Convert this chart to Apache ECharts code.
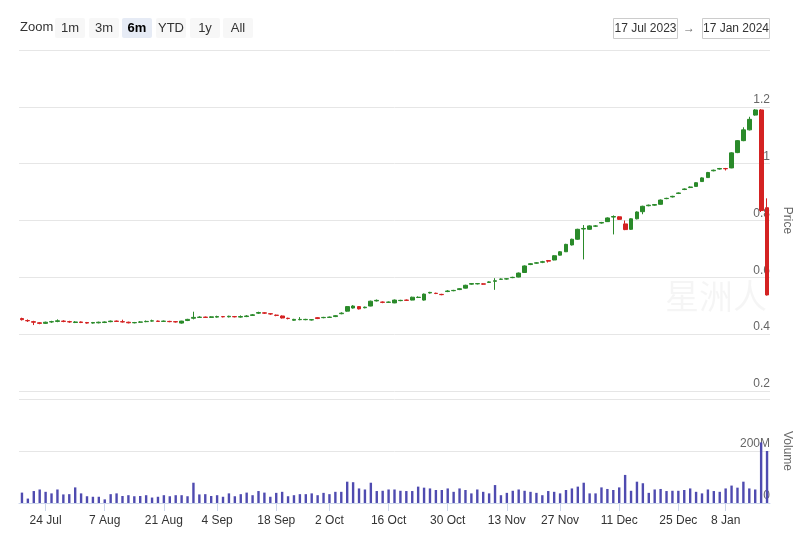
<!DOCTYPE html>
<html><head><meta charset="utf-8">
<script src="https://cdn.jsdelivr.net/npm/echarts@6/dist/echarts.min.js"></script>
<style>html,body{margin:0;padding:0;background:#fff}#c{width:800px;height:538px}</style>
</head><body><div id="c"></div>
<script>
// ---- data ----
const startDate = '2023-07-17';
const endDate = '2024-01-17';
const holidays = ['2023-07-19','2023-08-31','2023-09-28','2023-11-13','2023-12-25','2024-01-01'];
const tickDates = ['2023-07-24','2023-08-07','2023-08-21','2023-09-04','2023-09-18','2023-10-02','2023-10-16','2023-10-30','2023-11-13','2023-11-27','2023-12-11','2023-12-25','2024-01-08'];
const rangeButtons = ['1m','3m','6m','YTD','1y','All'];
const selectedButton = '6m';
const rangeFrom = '17 Jul 2023';
const rangeTo = '17 Jan 2024';

const opens = [.455,.448,.444,.440,.438,.443,.445,.446,.444,.441,.443,.441,.439,.440,.441,.444,.446,.444,.442,.440,.442,.444,.446,.446,.445,.445,.444,.439,.448,.456,
.459,.460,.459,.460,.462,.461,.462,.460,.462,.466,.474,.475,.472,.467,.464,.456,.449,.451,.451,.450,.458,.458,.459,.462,.472,.481,.492,.497,.493,.499,
.517,.513,.512,.510,.518,.520,.520,.529,.520,.545,.544,.540,.550,.553,.557,.562,.576,.577,.577,.582,.586,.593,.594,.599,.601,.617,.645,.650,.653,.659,
.661,.678,.690,.714,.734,.770,.769,.780,.791,.796,.812,.813,.788,.769,.806,.831,.852,.854,.857,.877,.883,.895,.909,.916,.920,.937,.951,.975,.981,.983,
.985,1.039,1.081,1.119,1.171,1.189,.845];
const closes = [.451,.447,.442,.438,.442,.444,.447,.445,.443,.443,.441,.439,.441,.442,.443,.446,.445,.443,.440,.441,.443,.445,.447,.445,.446,.444,.443,.446,.452,.459,
.460,.459,.461,.462,.461,.463,.461,.462,.464,.468,.476,.474,.471,.466,.457,.455,.452,.452,.452,.451,.455,.459,.460,.465,.474,.497,.499,.489,.495,.516,
.519,.512,.513,.520,.519,.519,.530,.530,.541,.547,.543,.539,.552,.554,.560,.572,.578,.578,.576,.584,.588,.594,.595,.600,.615,.640,.648,.651,.655,.657,
.676,.690,.716,.734,.769,.772,.781,.781,.793,.809,.814,.804,.768,.806,.830,.850,.854,.856,.872,.878,.885,.897,.911,.918,.933,.950,.969,.977,.983,.982,
1.038,1.081,1.119,1.156,1.189,.835,.538];
const lows = [.448,.443,.432,.435,.436,.440,.442,.442,.440,.439,.439,.437,.437,.438,.439,.442,.443,.441,.438,.438,.440,.442,.444,.443,.443,.442,.441,.437,.446,.452,
.457,.457,.457,.458,.459,.459,.459,.458,.460,.464,.471,.471,.468,.463,.455,.452,.447,.449,.449,.448,.453,.456,.457,.460,.470,.479,.490,.487,.491,.498,
.515,.509,.510,.509,.516,.517,.519,.527,.518,.543,.541,.537,.548,.551,.555,.561,.574,.575,.574,.580,.556,.591,.592,.597,.600,.616,.643,.648,.650,.652,
.660,.677,.689,.712,.732,.663,.767,.777,.789,.795,.751,.802,.766,.767,.804,.822,.850,.852,.856,.875,.881,.893,.907,.914,.919,.936,.950,.973,.979,.976,
.984,1.037,1.079,1.117,1.169,.830,.536];
const highs = [.458,.452,.447,.442,.444,.447,.452,.449,.447,.446,.445,.443,.443,.444,.445,.448,.448,.451,.444,.443,.446,.448,.451,.448,.448,.447,.446,.447,.454,.479,
.463,.462,.463,.465,.464,.465,.464,.466,.467,.471,.479,.477,.474,.469,.466,.458,.454,.460,.454,.453,.460,.461,.462,.467,.477,.499,.502,.499,.497,.518,
.522,.515,.515,.522,.521,.522,.532,.533,.543,.549,.546,.542,.555,.556,.562,.574,.580,.580,.579,.586,.597,.596,.597,.602,.617,.642,.650,.653,.658,.661,
.678,.692,.718,.736,.771,.784,.783,.784,.795,.811,.818,.815,.800,.808,.832,.852,.856,.858,.874,.880,.887,.899,.913,.920,.935,.952,.971,.979,.985,.985,
1.040,1.083,1.128,1.165,1.192,1.192,.878];
// volume in millions
const volumes = [40,17,46,52,43,37,52,33,34,60,37,26,24,24,14,34,37,27,30,26,27,30,21,24,30,26,30,30,26,78,
33,34,27,30,24,37,26,34,40,30,46,40,24,39,43,26,30,34,34,37,30,39,34,43,43,82,80,56,52,78,46,47,52,52,
47,46,46,63,59,56,50,50,56,43,56,50,37,52,43,37,69,30,39,47,52,47,43,39,30,46,43,37,50,56,
63,78,37,37,60,54,50,60,108,47,82,76,39,52,54,46,47,47,50,56,43,37,52,46,43,56,67,59,82,56,52,233,200];

// ---- derived ----
const MONTHS = ['Jan','Feb','Mar','Apr','May','Jun','Jul','Aug','Sep','Oct','Nov','Dec'];
function buildDates(){
  const out = [];
  let d = new Date(startDate + 'T00:00:00Z');
  const e = new Date(endDate + 'T00:00:00Z');
  while (d <= e) {
    const w = d.getUTCDay();
    const s = d.toISOString().slice(0,10);
    if (w !== 0 && w !== 6 && holidays.indexOf(s) < 0) out.push(s);
    d = new Date(d.getTime() + 86400000);
  }
  return out;
}
const dates = buildDates();
function fmt(s){ const p = s.split('-'); return (+p[2]) + ' ' + MONTHS[+p[1]-1]; }
const tickLabelAt = {};
tickDates.forEach(t => {
  const i = dates.findIndex(d => d >= t);
  if (i >= 0) tickLabelAt[i] = fmt(t);
});
const candleData = dates.map((d,i) => [opens[i], closes[i], lows[i], highs[i]]);

const FONT = '"Liberation Sans", Arial, Helvetica, sans-serif';
const UP = '#2a8a2a', DOWN = '#d42222';

// range selector graphics
const graphics = [];
graphics.push({type:'text', left:20, top:21, style:{text:'Zoom', font:'13px ' + FONT, fill:'#333'}});
const btnX = [55, 89, 122, 156, 190, 223];
rangeButtons.forEach((b, k) => {
  const sel = b === selectedButton;
  graphics.push({type:'rect', shape:{x:btnX[k], y:18, width:30, height:20, r:2}, style:{fill: sel ? '#e6ebf5' : '#f7f7f7'}});
  graphics.push({type:'text', x:btnX[k] + 15, y:28, style:{text:b, font:(sel ? 'bold ' : '') + '13px ' + FONT, fill: sel ? '#000' : '#333', align:'center', verticalAlign:'middle'}});
});
graphics.push({type:'rect', shape:{x:613.5, y:18.5, width:64, height:20}, style:{fill:'#fff', stroke:'#cccccc', lineWidth:1}});
graphics.push({type:'text', x:645.5, y:29, style:{text:rangeFrom, font:'12px ' + FONT, fill:'#333', align:'center', verticalAlign:'middle'}});
graphics.push({type:'text', x:689, y:29, style:{text:'→', font:'12px ' + FONT, fill:'#666', align:'center', verticalAlign:'middle'}});
graphics.push({type:'rect', shape:{x:702.5, y:18.5, width:67, height:20}, style:{fill:'#fff', stroke:'#cccccc', lineWidth:1}});
graphics.push({type:'text', x:736, y:29, style:{text:rangeTo, font:'12px ' + FONT, fill:'#333', align:'center', verticalAlign:'middle'}});
// watermark
graphics.push({type:'text', x:716, y:296, z:-1, style:{text:'星洲人', font:'34px "Noto Sans CJK SC", sans-serif', fill:'rgba(0,0,0,0.04)', align:'center', verticalAlign:'middle'}});

const chart = echarts.init(document.getElementById('c'), null, {renderer:'canvas'});
chart.setOption({
  animation: false,
  backgroundColor: '#fff',
  textStyle: {fontFamily: FONT},
  graphic: graphics,
  grid: [
    {left:19, right:30, top:50, height:341, outerBoundsMode:'none'},
    {left:19, right:30, top:399, height:104, outerBoundsMode:'none'}
  ],
  xAxis: [
    {type:'category', gridIndex:0, data:dates, boundaryGap:true,
      axisLine:{show:false}, axisTick:{show:false}, axisLabel:{show:false}, splitLine:{show:false}},
    {type:'category', gridIndex:1, data:dates, boundaryGap:true,
      axisLine:{show:true, lineStyle:{color:'#ccd6eb', width:1}},
      axisTick:{show:true, alignWithLabel:true, length:8, lineStyle:{color:'#ccd6eb'}, interval:(i) => tickLabelAt[i] !== undefined},
      axisLabel:{show:true, interval:(i) => tickLabelAt[i] !== undefined, formatter:(v, i) => tickLabelAt[i] || '', color:'#333', fontSize:12, margin:12, fontFamily:FONT},
      splitLine:{show:false}}
  ],
  yAxis: [
    {type:'value', gridIndex:0, position:'right', min:0.2, max:1.4, interval:0.2,
      axisLine:{show:false}, axisTick:{show:false},
      splitLine:{show:true, lineStyle:{color:'#e6e6e6', width:1}},
      axisLabel:{inside:true, margin:0, color:'#666', fontSize:12, fontFamily:FONT, verticalAlign:'bottom', padding:[0,0,1,0],
        formatter:(v) => (Math.abs(v - 1.4) < 1e-6) ? '' : String(+v.toFixed(1))},
      name:'Price', nameLocation:'middle', nameRotate:-90, nameGap:0,
      nameTextStyle:{color:'#666', fontSize:12, fontFamily:FONT, verticalAlign:'middle'}},
    {type:'value', gridIndex:1, position:'right', min:0, max:400, interval:200,
      axisLine:{show:false}, axisTick:{show:false},
      splitLine:{show:true, lineStyle:{color:'#e6e6e6', width:1}},
      axisLabel:{inside:true, margin:0, color:'#666', fontSize:12, fontFamily:FONT, verticalAlign:'bottom', padding:[0,0,1,0],
        formatter:(v) => v === 400 ? '' : (v === 0 ? '0' : v + 'M')},
      name:'Volume', nameLocation:'middle', nameRotate:-90, nameGap:0,
      nameTextStyle:{color:'#666', fontSize:12, fontFamily:FONT, verticalAlign:'middle'}}
  ],
  series: [
    {type:'candlestick', xAxisIndex:0, yAxisIndex:0, data:candleData, barWidth:'72%',
      itemStyle:{color:UP, color0:DOWN, borderColor:UP, borderColor0:DOWN, borderWidth:1}},
    {type:'bar', xAxisIndex:1, yAxisIndex:1, data:volumes, barWidth:2.4, itemStyle:{color:'#4f4bb0'}}
  ]
});
</script>
</body></html>
